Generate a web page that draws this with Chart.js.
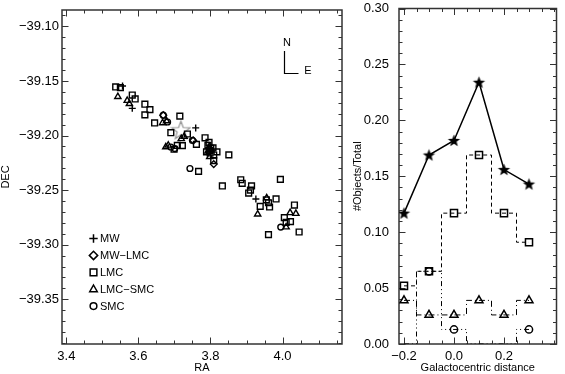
<!DOCTYPE html>
<html>
<head>
<meta charset="utf-8">
<script src="https://cdn.jsdelivr.net/npm/chart.js"></script>
<style>
  html, body { margin: 0; padding: 0; background: #fff; }
  #wrap { position: relative; width: 565px; height: 374px; overflow: hidden; }
  canvas { position: absolute; top: 0; }
  #left { left: 0; }
  #right { left: 352px; }
</style>
</head>
<body>
<div id="wrap">
  <canvas id="left" width="352" height="374"></canvas>
  <canvas id="right" width="213" height="374"></canvas>
</div>
<script>
// tick labels
const raTicks = [3.4, 3.6, 3.8, 4.0];
const decTicks = [-39.10, -39.15, -39.20, -39.25, -39.30, -39.35];
const distTicks = [-0.2, 0.0, 0.2];
const fracTicks = [0.00, 0.05, 0.10, 0.15, 0.20, 0.25, 0.30];

// left panel: positions of the objects, per class
const mwRA  = [3.556, 3.583, 3.759, 3.926];
const mwDEC = [-39.1546, -39.1751, -39.1930, -39.2581];

const mwlmcRA  = [3.669, 3.752, 3.809, 3.796];
const mwlmcDEC = [-39.1814, -39.2045, -39.2262, -39.2117];

const lmcRA  = [3.537, 3.550, 3.583, 3.591, 3.618, 3.618, 3.632, 3.645, 3.715, 3.690,
                3.736, 3.708, 3.722, 3.699, 3.761, 3.785, 3.789, 3.807, 3.818, 3.809,
                3.851, 3.809, 3.793, 3.796, 3.801, 3.767, 3.833, 3.884, 3.888, 3.914,
                3.911, 3.906, 3.994, 3.955, 3.961, 3.982, 3.938, 3.964, 4.033, 4.005,
                4.010, 4.022, 3.961, 4.046, 3.797, 3.799];
const lmcDEC = [-39.1555, -39.1561, -39.1629, -39.1665, -39.1713, -39.1811, -39.1763, -39.1885, -39.1822, -39.1974,
                -39.1986, -39.2090, -39.2093, -39.2126, -39.2081, -39.2021, -39.2150, -39.2114, -39.2150, -39.2179,
                -39.2177, -39.2230, -39.2090, -39.2063, -39.2117, -39.2328, -39.2462, -39.2405, -39.2438, -39.2462,
                -39.2500, -39.2527, -39.2402, -39.2590, -39.2616, -39.2581, -39.2649, -39.2655, -39.2637, -39.2753,
                -39.2795, -39.2789, -39.2908, -39.2884, -39.2140, -39.2160];

const lmcsmcRA  = [3.543, 3.569, 3.575, 3.667, 3.678, 3.727, 3.719, 3.676, 3.683, 3.798,
                   3.793, 3.956, 3.931, 4.021, 4.037, 4.010, 3.797];
const lmcsmcDEC = [-39.1644, -39.1680, -39.1709, -39.1885, -39.1867, -39.2010, -39.2030, -39.2105, -39.2090, -39.2194,
                   -39.2144, -39.2572, -39.2721, -39.2708, -39.2715, -39.2839, -39.2100];

const smcRA  = [3.669, 3.681, 3.690, 3.701, 3.750, 3.743, 3.995, 3.798];
const smcDEC = [-39.1814, -39.1876, -39.2105, -39.2120, -39.2045, -39.2302, -39.2839, -39.2126];

const centerRA = [3.718];
const centerDEC = [-39.1952];

// right panel: fraction of objects per galactocentric distance bin
const distBins   = [-0.2, -0.1, 0.0, 0.1, 0.2, 0.3];
const fracAll    = [0.117, 0.169, 0.182, 0.234, 0.156, 0.143];
const fracLMC    = [0.052, 0.065, 0.117, 0.169, 0.117, 0.091];
const fracLMCSMC = [0.039, 0.026, 0.026, 0.039, 0.026, 0.039];
const fracSMC    = [0.000, 0.065, 0.013, 0.000, 0.000, 0.013];

const FONT = '"Liberation Sans", Arial, Helvetica, sans-serif';
Chart.defaults.font.family = FONT;
Chart.defaults.color = '#000';

const pts = (xs, ys) => xs.map((v, i) => ({ x: v, y: ys[i] }));
const minus = s => s.replace('-', '\u2212');

function makeStar(size, fill, stroke, lw) {
  const c = document.createElement('canvas');
  c.width = c.height = size;
  const g = c.getContext('2d');
  const R = size / 2 - 1, r = R * 0.42, cx = size / 2, cy = size / 2 + 0.5;
  g.beginPath();
  for (let i = 0; i < 10; i++) {
    const a = -Math.PI / 2 + i * Math.PI / 5;
    const rr = i % 2 ? r : R;
    g.lineTo(cx + rr * Math.cos(a), cy + rr * Math.sin(a));
  }
  g.closePath();
  if (fill) { g.fillStyle = fill; g.fill(); }
  if (stroke) { g.strokeStyle = stroke; g.lineWidth = lw || 1; g.stroke(); }
  return c;
}

// box with inward major/minor ticks on all four sides (IDL style)
const framePlugin = {
  id: 'frame',
  beforeDatasetsDraw(chart, args, opts) {
    const { ctx, chartArea: a, scales } = chart;
    const xs = scales.x, ys = scales.y;
    ctx.save();
    ctx.strokeStyle = '#333';
    ctx.lineWidth = 1.5;
    ctx.strokeRect(a.left, a.top, a.right - a.left, a.bottom - a.top);
    ctx.lineWidth = 1;
    ctx.beginPath();
    const vals = (majors, step, min, max) => {
      const out = [];
      const v0 = majors[0];
      for (let i = Math.ceil((min - v0) / step - 1e-6); v0 + i * step <= max + 1e-9; i++) out.push(v0 + i * step);
      return out;
    };
    const xt = (v, len) => {
      const p = Math.round(xs.getPixelForValue(v)) + 0.5;
      ctx.moveTo(p, a.bottom); ctx.lineTo(p, a.bottom - len);
      ctx.moveTo(p, a.top); ctx.lineTo(p, a.top + len);
    };
    const yt = (v, len) => {
      const p = Math.round(ys.getPixelForValue(v)) + 0.5;
      ctx.moveTo(a.left, p); ctx.lineTo(a.left + len, p);
      ctx.moveTo(a.right, p); ctx.lineTo(a.right - len, p);
    };
    vals(opts.xMajor, opts.xMinor, xs.min, xs.max).forEach(v => xt(v, 3.5));
    vals(opts.yMajor, opts.yMinor, ys.min, ys.max).forEach(v => yt(v, 3.5));
    opts.xMajor.forEach(v => xt(v, 6.5));
    opts.yMajor.forEach(v => yt(v, 6.5));
    ctx.stroke();
    ctx.restore();
  }
};

function marker(ctx, style, x, y, r) {
  ctx.beginPath();
  if (style === 'cross') {
    ctx.moveTo(x - r, y); ctx.lineTo(x + r, y);
    ctx.moveTo(x, y - r); ctx.lineTo(x, y + r);
  } else if (style === 'rectRot') {
    ctx.moveTo(x, y - r); ctx.lineTo(x + r, y); ctx.lineTo(x, y + r); ctx.lineTo(x - r, y); ctx.closePath();
  } else if (style === 'rect') {
    ctx.rect(x - r * 0.8, y - r * 0.8, r * 1.6, r * 1.6);
  } else if (style === 'triangle') {
    ctx.moveTo(x, y - r); ctx.lineTo(x + r * 0.9, y + r * 0.6); ctx.lineTo(x - r * 0.9, y + r * 0.6); ctx.closePath();
  } else {
    ctx.arc(x, y, r * 0.8, 0, Math.PI * 2);
  }
  ctx.stroke();
}

// legend in lower left and the N/E compass
const notesPlugin = {
  id: 'notes',
  afterDraw(chart) {
    const ctx = chart.ctx, a = chart.chartArea;
    ctx.save();
    ctx.strokeStyle = '#000';
    ctx.fillStyle = '#000';
    ctx.lineWidth = 1.5;
    const items = [['MW', 'cross'], ['MW\u2212LMC', 'rectRot'], ['LMC', 'rect'], ['LMC\u2212SMC', 'triangle'], ['SMC', 'circle']];
    ctx.font = '11px ' + FONT;
    ctx.textBaseline = 'middle';
    items.forEach((it, i) => {
      const y = 238.5 + i * 16.9;
      marker(ctx, it[1], a.left + 31.5, y, 4.2);
      ctx.fillText(it[0], a.left + 38, y + 0.5);
    });
    // compass
    ctx.lineWidth = 1.2;
    ctx.beginPath();
    ctx.moveTo(284.5, 51); ctx.lineTo(284.5, 73.5); ctx.lineTo(298.5, 73.5);
    ctx.stroke();
    ctx.font = '11px ' + FONT;
    ctx.textAlign = 'center';
    ctx.fillText('N', 287, 43);
    ctx.fillText('E', 308, 71);
    ctx.restore();
  }
};

const tickFont = { family: FONT, size: 13 };
const titleFont = { family: FONT, size: 11, lineHeight: 1 };
const noPad = s => { s.paddingTop = 0; s.paddingBottom = 0; s.paddingLeft = 0; s.paddingRight = 0; };

function axisX(min, max, ticks, digits, title, pad) {
  return {
    type: 'linear', min, max,
    grid: { display: false, drawTicks: false }, border: { display: false },
    afterBuildTicks: s => { s.ticks = ticks.map(v => ({ value: v })); },
    afterFit: s => { s.height = 30; noPad(s); },
    ticks: { font: tickFont, padding: pad, maxRotation: 0, autoSkip: false,
             callback: v => minus(Number(v).toFixed(digits)) },
    title: { display: true, text: title, font: titleFont, padding: { top: 0, bottom: 1 } }
  };
}
function axisY(min, max, ticks, digits, title, width, pad) {
  return {
    type: 'linear', min, max,
    grid: { display: false, drawTicks: false }, border: { display: false },
    afterBuildTicks: s => { s.ticks = ticks.map(v => ({ value: v })); },
    afterFit: s => { s.width = width; noPad(s); },
    ticks: { font: tickFont, padding: pad, autoSkip: false,
             callback: v => minus(Number(v).toFixed(digits)) },
    title: { display: true, text: title, font: titleFont, padding: { top: 0, bottom: 0 } }
  };
}

const scat = (data, style, r) => ({
  data, showLine: false, pointStyle: style, pointRadius: r,
  borderColor: '#000', backgroundColor: 'rgba(0,0,0,0)', pointBorderWidth: 1.4
});

new Chart(document.getElementById('left'), {
  type: 'scatter',
  data: {
    datasets: [
      scat(pts(lmcRA, lmcDEC), 'rect', 4.1),
      scat(pts(lmcsmcRA, lmcsmcDEC), 'triangle', 3.6),
      scat(pts(smcRA, smcDEC), 'circle', 2.9),
      scat(pts(mwlmcRA, mwlmcDEC), 'rectRot', 3.4),
      scat(pts(mwRA, mwDEC), 'cross', 3.5),
      { data: pts(centerRA, centerDEC), showLine: false, pointRadius: 9,
        pointStyle: makeStar(21, null, '#8a8a8a', 1.1) }
    ]
  },
  options: {
    responsive: false, animation: false, events: [],
    layout: { padding: { top: 1, right: 8, left: 0, bottom: 0 } },
    plugins: {
      legend: { display: false }, tooltip: { enabled: false },
      frame: { xMajor: raTicks, xMinor: 0.05, yMajor: decTicks, yMinor: 0.01 }
    },
    scales: {
      x: axisX(3.388, 4.165, raTicks, 1, 'RA', 5),
      y: axisY(-39.391, -39.085, decTicks, 2, 'DEC', 62, 3)
    }
  },
  plugins: [framePlugin, notesPlugin]
});

const starImg = makeStar(15, '#000', null);
const step = (vals, dash, style, r) => ({
  data: pts(distBins, vals), stepped: 'middle', borderColor: '#000', borderWidth: 1,
  borderDash: dash, pointStyle: style, backgroundColor: 'rgba(0,0,0,0)', pointBorderWidth: 1.5,
  pointRadius: c => (c.parsed && c.parsed.y === 0 ? 0 : r), fill: false
});

new Chart(document.getElementById('right'), {
  type: 'line',
  data: {
    datasets: [
      step(fracSMC, [5, 3, 1, 3, 1, 3, 1, 3], 'circle', 3.6),
      step(fracLMCSMC, [6, 3, 1, 3], 'triangle', 4.6),
      step(fracLMC, [4, 3], 'rect', 5),
      { data: pts(distBins, fracAll), borderColor: '#000', borderWidth: 1.5, pointStyle: starImg,
        pointRadius: 7, fill: false, tension: 0 }
    ]
  },
  options: {
    responsive: false, animation: false, events: [],
    layout: { padding: { top: 1, right: 1, left: 0, bottom: 0 } },
    plugins: {
      legend: { display: false }, tooltip: { enabled: false },
      frame: { xMajor: distTicks, xMinor: 0.05, yMajor: fracTicks, yMinor: 0.01 }
    },
    scales: {
      x: axisX(-0.22, 0.41, distTicks, 1, 'Galactocentric distance', 5),
      y: axisY(0, 0.30, fracTicks, 2, '#Objects/Total', 47, 10)
    }
  },
  plugins: [framePlugin]
});
</script>
</body>
</html>
